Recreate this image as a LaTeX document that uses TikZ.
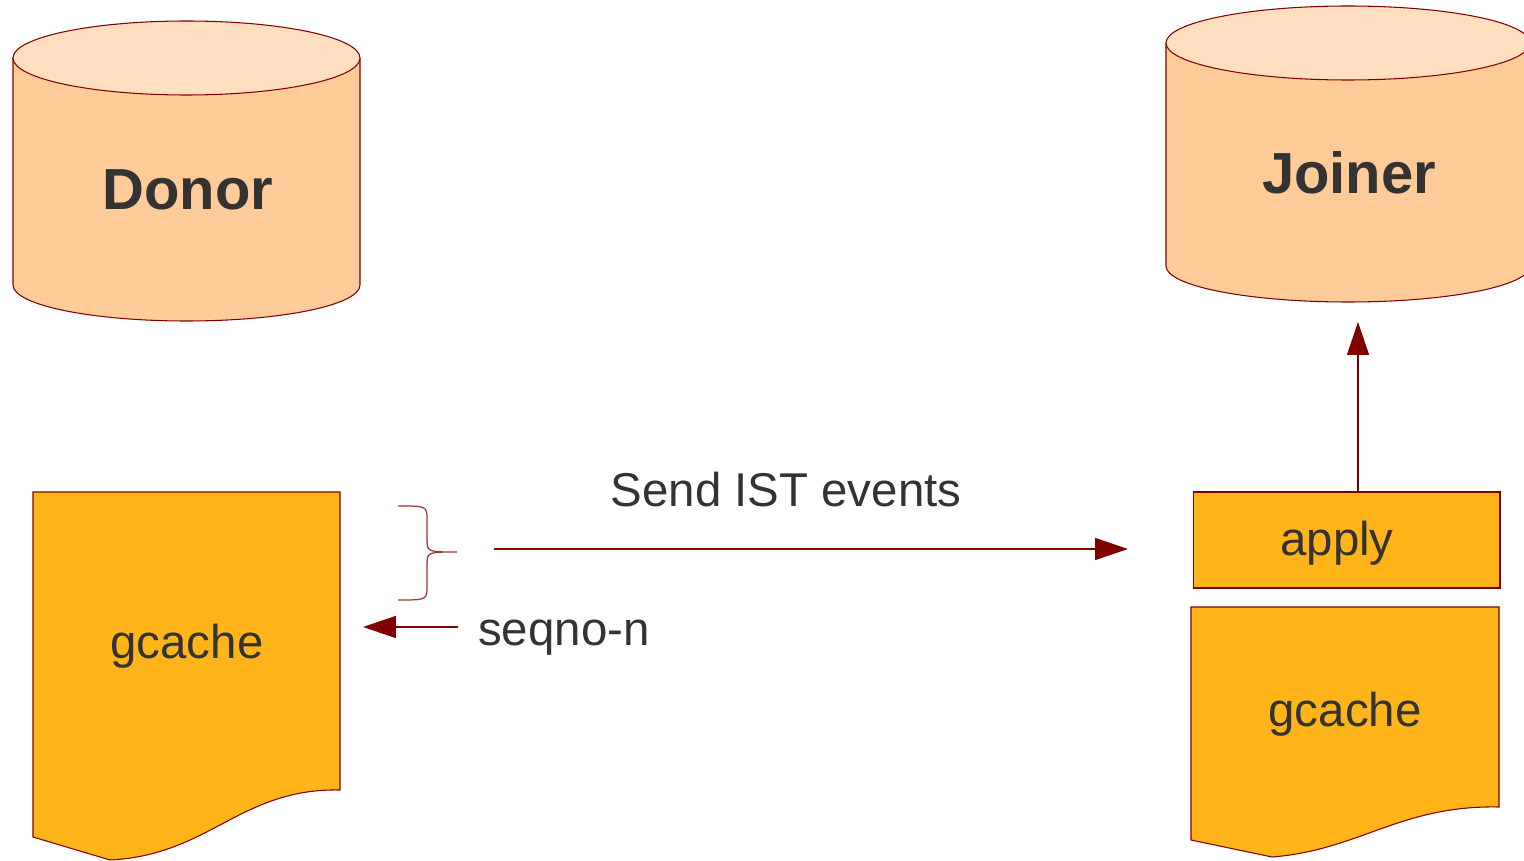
\documentclass[tikz,border=0pt]{standalone}
\usepackage{fontspec}
\setmainfont{Liberation Sans}
\usepackage{tikz}
\usetikzlibrary{arrows.meta}

\definecolor{linered}{RGB}{128,0,0}
\definecolor{peach}{RGB}{255,204,153}
\definecolor{peachtop}{RGB}{255,223,192}
\definecolor{cacheorange}{RGB}{255,180,25}
\definecolor{txtgray}{RGB}{51,51,51}

\tikzset{
  outline/.style={draw=linered, line width=0.6pt},
  lbl/.style={text=txtgray, font=\fontsize{27}{30}\selectfont},
  dblbl/.style={text=txtgray, font=\fontsize{33}{36}\selectfont\bfseries},
  flow/.style={draw=linered, line width=0.85pt, -{Triangle[length=0.66cm, width=0.44cm]}},
}

\begin{document}
\begin{tikzpicture}[x=0.02cm, y=-0.02cm]
\useasboundingbox (0,0) rectangle (1524,861);

% donor database
\filldraw [outline, fill=peach] (13,58) -- (13,285)
  arc [start angle=180, end angle=0, x radius=173.5, y radius=36] -- (360,58);
\filldraw [outline, fill=peachtop] (186.5,58) ellipse [x radius=173.5, y radius=37];
\node [dblbl] (donor) at (188,190) {Donor};

% joiner database
\filldraw [outline, fill=peach] (1166,43) -- (1166,266)
  arc [start angle=180, end angle=0, x radius=182, y radius=36] -- (1530,43);
\filldraw [outline, fill=peachtop] (1348,43) ellipse [x radius=182, y radius=37];
\node [dblbl] (joiner) at (1349,173) {Joiner};

% donor gcache
\filldraw [outline, fill=cacheorange] (33,492) -- (340,492) -- (340,790)
  .. controls (240,788) and (210,855) .. (110,860) -- (33,837) -- cycle;
\node [lbl] (gcacheD) at (187,646) {gcache};

% joiner gcache and apply
\filldraw [outline, fill=cacheorange] (1191,607) -- (1499,607) -- (1499,807)
  .. controls (1400,805) and (1360,850) .. (1272,857) -- (1191,840) -- cycle;
\node [lbl] (gcacheJ) at (1345,714) {gcache};

\node [outline, fill=cacheorange, minimum width=6.14cm, minimum height=1.92cm]
  (apply) at (1346.5,540) {};
\node [lbl] (applytxt) at (1337,543) {apply};

% transfer
\coordinate (sendA) at (494,549);
\coordinate (sendB) at (1128,549);
\draw [flow] (sendA) -- (sendB);
\node [lbl] (send) at (786,490) {Send IST events};

\coordinate (seqA) at (458,627);
\coordinate (seqB) at (363,627);
\draw [flow] (seqA) -- (seqB);
\node [lbl, anchor=west] (seqno) at (472,638) {seqno-n};

\draw [linered!80, line width=0.7pt] (398,506) .. controls (427,506) .. (427,520)
  -- (427,538) .. controls (427,552) .. (457,552)
  .. controls (427,552) .. (427,566) -- (427,586)
  .. controls (427,600) .. (398,600);

% apply into joiner
\coordinate (upB) at (1358,322);
\draw [flow] (upB |- apply.north) -- (upB);

\end{tikzpicture}
\end{document}
